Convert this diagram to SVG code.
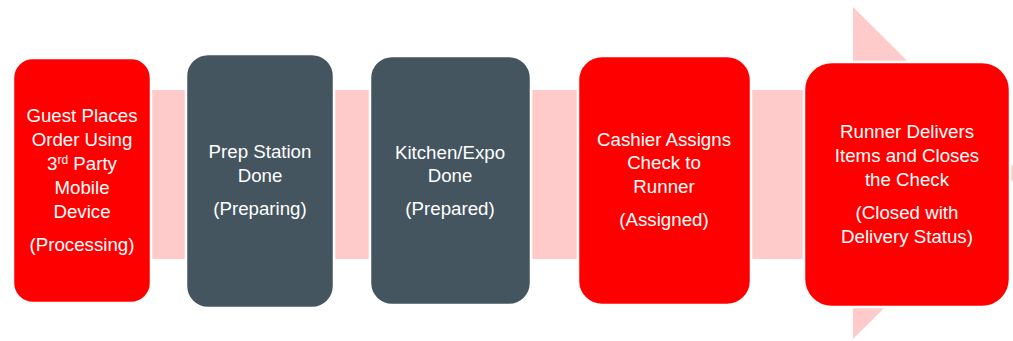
<svg xmlns="http://www.w3.org/2000/svg" width="1013" height="341" viewBox="0 0 1013 341">
<style>
.red{fill:#FF0000;stroke:#FFFFFF;stroke-width:2.5}
.gray{fill:#44555F;stroke:#FFFFFF;stroke-width:2.5}
.t{font-family:"Liberation Sans",Arial,sans-serif;font-size:18.7px;fill:#FFFFFF;text-anchor:middle}
</style>
<rect width="1013" height="341" fill="#FFFFFF"/>
<g id="connectors">
<path d="M60,90 H853 V7 L1020,173 L853,339 V259 H60 Z" fill="#FFCACA"/>
</g>
<g id="n1">
<rect class="red" x="13" y="58" width="138" height="245" rx="20"/>
<text class="t" x="82" y="122">Guest Places</text>
<text class="t" x="82" y="146">Order Using</text>
<text class="t" x="82" y="170">3<tspan font-size="12" dy="-6">rd</tspan><tspan dy="6"> Party</tspan></text>
<text class="t" x="82" y="194">Mobile</text>
<text class="t" x="82" y="218">Device</text>
<text class="t" x="82" y="251">(Processing)</text>
</g>
<g id="n2">
<rect class="gray" x="186" y="54" width="148" height="254" rx="22"/>
<text class="t" x="260" y="158">Prep Station</text>
<text class="t" x="260" y="182">Done</text>
<text class="t" x="260" y="215">(Preparing)</text>
</g>
<g id="n3">
<rect class="gray" x="370" y="56" width="161" height="249" rx="22"/>
<text class="t" x="450" y="159">Kitchen/Expo</text>
<text class="t" x="450" y="182">Done</text>
<text class="t" x="450" y="215">(Prepared)</text>
</g>
<g id="n4">
<rect class="red" x="578" y="56" width="173" height="249" rx="24"/>
<text class="t" x="664" y="146">Cashier Assigns</text>
<text class="t" x="664" y="169">Check to</text>
<text class="t" x="664" y="193">Runner</text>
<text class="t" x="664" y="226">(Assigned)</text>
</g>
<g id="n5">
<rect class="red" x="804" y="62" width="206" height="245" rx="28"/>
<text class="t" x="907" y="138">Runner Delivers</text>
<text class="t" x="907" y="162">Items and Closes</text>
<text class="t" x="907" y="186">the Check</text>
<text class="t" x="907" y="219">(Closed with</text>
<text class="t" x="907" y="243">Delivery Status)</text>
</g>
</svg>
